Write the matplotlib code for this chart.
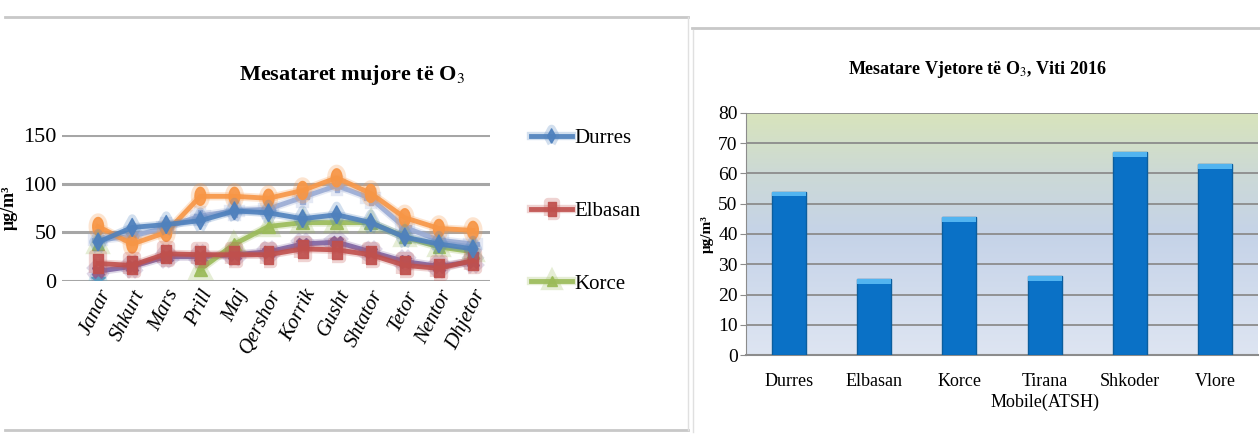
import numpy as np
import matplotlib
matplotlib.use('Agg')
import matplotlib.pyplot as plt
import matplotlib.patheffects as pe
from matplotlib.lines import Line2D

plt.rcParams['font.family'] = ['Liberation Serif', 'DejaVu Serif']
plt.rcParams['mathtext.fontset'] = 'stix'

# --- te dhenat: mesataret mujore (grafiku majtas) ---
muajt = ['Janar', 'Shkurt', 'Mars', 'Prill', 'Maj', 'Qershor', 'Korrik',
         'Gusht', 'Shtator', 'Tetor', 'Nentor', 'Dhjetor']
durres = [40, 55, 58, 62, 72, 70, 64, 68, 60, 45, 38, 33]
elbasan = [18, 16, 28, 27, 27, 27, 33, 32, 27, 16, 13, 21]
korce = [38, np.nan, np.nan, 12, 38, 56, 60, 60, 60, 45, 35, 30]
seri4 = [10, 15, 25, 25, 27, 30, 38, 40, 30, 20, 15, 20]
seri5 = [2, np.nan, np.nan, np.nan, np.nan, np.nan, np.nan, np.nan, np.nan, np.nan, np.nan, np.nan]
seri6 = [56, 38, 50, 87, 87, 85, 93, 106, 90, 65, 54, 52]
seri7 = [42, 46, 55, 67, 72, 74, 86, 98, 85, 55, 42, 38]

# --- te dhenat: mesataret vjetore (grafiku djathtas) ---
stacionet = ['Durres', 'Elbasan', 'Korce', 'Tirana\nMobile(ATSH)', 'Shkoder', 'Vlore']
vjetore = [54, 25, 45.5, 26, 67, 63]

# shenjat e zgjatura vertikalisht (si ne origjinal)
th = np.linspace(0, 2 * np.pi, 30)
m_elipse = list(zip(0.6 * np.cos(th), np.sin(th)))
m_katror = [(-0.55, -1), (0.55, -1), (0.55, 1), (-0.55, 1), (-0.55, -1)]
m_romb = [(0, -1), (0.55, 0), (0, 1), (-0.55, 0), (0, -1)]

fig = plt.figure(figsize=(12.6, 4.38), dpi=100)

# ---------------- grafiku majtas ----------------
ax1 = fig.add_axes([62 / 1260, 1 - 281 / 438, 428 / 1260, 146 / 438])
x = np.arange(len(muajt))
seri = [
    (seri7, '#9AABD4', 'P', 9, None),
    (seri6, '#F79646', m_elipse, 13, None),
    (seri5, '#4BACC6', '*', 11, None),
    (seri4, '#8064A2', 'X', 9, None),
    (korce, '#9BBB59', '^', 9, 'Korce'),
    (elbasan, '#C0504D', m_katror, 13, 'Elbasan'),
    (durres, '#4F81BD', m_romb, 13, 'Durres'),
]
handles = {}
for vals, col, mk, ms, lab in seri:
    ln, = ax1.plot(x, vals, color=col, lw=3.5, marker=mk, ms=ms, alpha=0.9,
                   markeredgecolor=col, zorder=3,
                   path_effects=[pe.Stroke(linewidth=6, foreground=col, alpha=0.25), pe.Normal()])
    if lab:
        handles[lab] = ln

ax1.set_xlim(-1.06, 11.5)
ax1.set_ylim(0, 150)
ax1.set_yticks([0, 50, 100, 150])
ax1.grid(axis='y', color='#A6A6A6', lw=2.2)
ax1.set_axisbelow(True)
for s in ax1.spines.values():
    s.set_visible(False)
ax1.tick_params(length=0, labelsize=16, pad=4)
ax1.set_xticks(x)
ax1.set_xticklabels(muajt, rotation=63, ha='right', rotation_mode='anchor',
                    style='italic', fontsize=15)
ax1.set_ylabel('μg/m³', fontsize=13, fontweight='bold', labelpad=4)
fig.text(352 / 1260, 1 - 75 / 438, 'Mesataret mujore të O$_3$', ha='center', va='center',
         fontsize=16, fontweight='bold')

leg = fig.legend([handles['Durres'], handles['Elbasan'], handles['Korce']],
                 ['Durres', 'Elbasan', 'Korce'],
                 loc='upper left', bbox_to_anchor=(512 / 1260, 1 - 110 / 438),
                 frameon=False, fontsize=15, labelspacing=2.55, handlelength=2.0,
                 handletextpad=0.1, markerscale=0.8)

# ---------------- grafiku djathtas ----------------
ax2 = fig.add_axes([746 / 1260, 1 - 355 / 438, 512 / 1260, 242 / 438])
xb = np.arange(len(stacionet))
ax2.set_xlim(-0.5, 5.5)
ax2.set_ylim(0, 80)

stops = np.array([[222, 229, 242], [197, 211, 232], [204, 217, 214], [216, 228, 188]]) / 255
pos = [0, 0.5, 0.75, 1]
t = np.linspace(0, 1, 200)
grad = np.stack([np.interp(t, pos, stops[:, k]) for k in range(3)], axis=1)[:, None, :]
ax2.imshow(grad, extent=[-0.5, 5.5, 0, 80], origin='lower', aspect='auto', zorder=0)

ax2.set_yticks(np.arange(0, 81, 10))
ax2.grid(axis='y', color='#8C8C8C', lw=1.3, zorder=1)
ax2.set_axisbelow(False)
ax2.bar(xb, vjetore, width=0.4, color='#0A71C6', edgecolor='#0B5E9E', lw=1, zorder=3)
ax2.bar(xb, [1.6] * len(vjetore), bottom=[v - 1.6 for v in vjetore], width=0.4,
        color='#52B4F0', lw=0, zorder=4)
for s in ['top', 'right']:
    ax2.spines[s].set_visible(False)
ax2.spines['left'].set_color('#8C8C8C')
ax2.spines['bottom'].set_color('#8C8C8C')
ax2.spines['bottom'].set_linewidth(1.5)
ax2.tick_params(axis='y', length=4, color='#8C8C8C', labelsize=14, pad=2)
ax2.tick_params(axis='x', length=0, labelsize=13, pad=13)
ax2.set_xticks(xb)
ax2.set_xticklabels(stacionet, linespacing=1.3)
ax2.set_ylabel('μg/m³', fontsize=11, fontweight='bold', labelpad=3)
fig.text(977 / 1260, 1 - 70 / 438, 'Mesatare Vjetore të O$_3$, Viti 2016', ha='center',
         va='center', fontsize=13, fontweight='bold')

# kornizat e paneleve
fig.add_artist(Line2D([5 / 1260, 688 / 1260], [1 - 17 / 438] * 2, color='#C8C8C8', lw=2))
fig.add_artist(Line2D([5 / 1260, 688 / 1260], [1 - 430 / 438] * 2, color='#C8C8C8', lw=2))
fig.add_artist(Line2D([688 / 1260] * 2, [1 - 17 / 438, 1 - 430 / 438], color='#E0E0E0', lw=1))
fig.add_artist(Line2D([692 / 1260, 1], [1 - 28 / 438] * 2, color='#C8C8C8', lw=2))
fig.add_artist(Line2D([693 / 1260] * 2, [1 - 30 / 438, 1 - 432 / 438], color='#E0E0E0', lw=1))

fig.savefig('out.png', dpi=100)
